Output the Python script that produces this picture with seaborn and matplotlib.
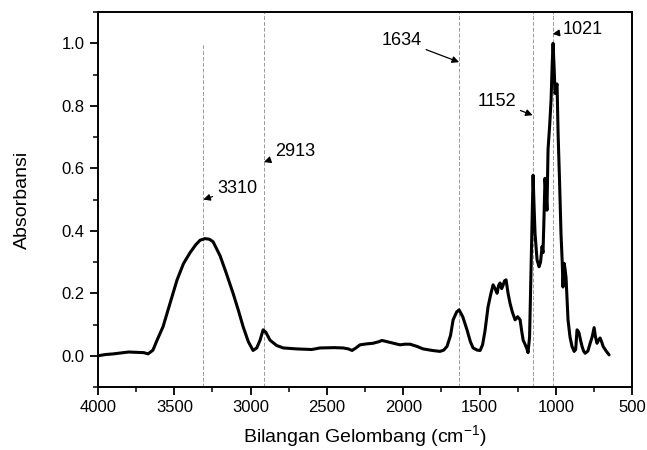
import matplotlib
matplotlib.use("Agg")
import matplotlib.pyplot as plt
import seaborn as sns
import pandas as pd
from matplotlib.ticker import MultipleLocator

wavenumber = [4000, 3950, 3900, 3850, 3800, 3750, 3700, 3672, 3640, 3613, 3574, 3530, 3482,
              3440, 3397, 3360, 3331, 3299, 3270, 3246, 3200, 3160, 3115, 3080, 3049, 3015,
              2984, 2960, 2938, 2918, 2900, 2873, 2830, 2786, 2700, 2600, 2545, 2450, 2394,
              2360, 2335, 2310, 2283, 2240, 2198, 2160, 2139, 2080, 2021, 1990, 1955, 1910,
              1870, 1810, 1759, 1735, 1713, 1690, 1673, 1650, 1634, 1610, 1582, 1560, 1542,
              1515, 1496, 1480, 1464, 1444, 1425, 1411, 1398, 1385, 1375, 1365, 1355, 1346,
              1336, 1326, 1313, 1300, 1285, 1267, 1250, 1234, 1224, 1214, 1200, 1188, 1182,
              1172, 1162, 1155, 1149, 1142, 1136, 1123, 1110, 1100, 1090, 1084, 1077, 1071,
              1064, 1058, 1051, 1040, 1031, 1024, 1018, 1011, 1005, 998, 992, 985, 975, 966,
              958, 953, 946, 940, 933, 925, 920, 907, 894, 880, 870, 861, 855, 848, 838, 828,
              818, 808, 790, 775, 762, 749, 740, 730, 720, 710, 700, 690, 670, 651]
absorbance = [0.000, 0.004, 0.006, 0.009, 0.012, 0.011, 0.010, 0.006, 0.018, 0.050, 0.093,
              0.165, 0.243, 0.295, 0.330, 0.355, 0.370, 0.375, 0.373, 0.365, 0.320, 0.265,
              0.200, 0.145, 0.093, 0.045, 0.017, 0.025, 0.050, 0.083, 0.075, 0.050, 0.033,
              0.025, 0.022, 0.020, 0.025, 0.026, 0.025, 0.022, 0.017, 0.025, 0.035, 0.038,
              0.040, 0.045, 0.049, 0.042, 0.035, 0.037, 0.037, 0.030, 0.022, 0.017, 0.014,
              0.018, 0.030, 0.065, 0.115, 0.140, 0.147, 0.125, 0.083, 0.045, 0.025, 0.018,
              0.017, 0.035, 0.080, 0.157, 0.200, 0.227, 0.215, 0.200, 0.225, 0.233, 0.215,
              0.225, 0.240, 0.243, 0.200, 0.168, 0.140, 0.115, 0.125, 0.115, 0.080, 0.050,
              0.035, 0.020, 0.010, 0.060, 0.285, 0.450, 0.578, 0.470, 0.390, 0.307, 0.285,
              0.300, 0.350, 0.330, 0.450, 0.568, 0.520, 0.466, 0.660, 0.740, 0.820, 0.930,
              1.000, 0.920, 0.840, 0.860, 0.870, 0.710, 0.550, 0.390, 0.300, 0.220, 0.296,
              0.280, 0.250, 0.170, 0.115, 0.060, 0.030, 0.014, 0.020, 0.083, 0.080, 0.073,
              0.050, 0.030, 0.015, 0.008, 0.015, 0.040, 0.060, 0.090, 0.060, 0.040, 0.050,
              0.057, 0.045, 0.030, 0.015, 0.003]

peak_positions = [3310, 2913, 1634, 1152, 1021]
peak_labels = ["3310", "2913", "1634", "1152", "1021"]
line_tops = [1.0, 1.1, 1.1, 1.1, 1.1]
arrow_tips = [0.50, 0.62, 0.94, 0.77, 1.03]
label_pos = [(3220, 0.535), (2840, 0.655), (1880, 1.01), (1262, 0.815), (955, 1.045)]

df = pd.DataFrame({"Bilangan Gelombang": wavenumber, "Absorbansi": absorbance})

sns.set_theme(style="ticks")
plt.rcParams["font.family"] = ["Liberation Sans", "DejaVu Sans"]
plt.rcParams["text.color"] = "black"
plt.rcParams["axes.labelcolor"] = "black"
plt.rcParams["mathtext.fontset"] = "custom"
plt.rcParams["mathtext.rm"] = "Liberation Sans"
plt.rcParams["mathtext.default"] = "regular"

fig = plt.figure(figsize=(6.47, 4.5), dpi=100)
ax = fig.add_axes([0.1515, 0.14, 0.8255, 0.833])

for pos, top in zip(peak_positions, line_tops):
    ax.vlines(pos, -0.1, top, colors="#9a9a9a", linestyles=(0, (4, 2)), linewidth=0.7, zorder=1)

sns.lineplot(data=df, x="Bilangan Gelombang", y="Absorbansi", color="black",
             linewidth=2.2, ax=ax, sort=False, estimator=None, zorder=3)

for pos, lab, tip, (tx, ty) in zip(peak_positions, peak_labels, arrow_tips, label_pos):
    ax.annotate(lab, xy=(pos, tip), xytext=(tx, ty), fontsize=13, color="black",
                ha="left" if tx < pos else "right", va="center",
                arrowprops=dict(arrowstyle="-|>", color="black", lw=0.9,
                                mutation_scale=10, shrinkA=1, shrinkB=0))

ax.set_xlim(4000, 500)
ax.set_ylim(-0.1, 1.1)
ax.xaxis.set_major_locator(MultipleLocator(500))
ax.xaxis.set_minor_locator(MultipleLocator(250))
ax.yaxis.set_minor_locator(MultipleLocator(0.1))
ax.set_yticks([0.0, 0.2, 0.4, 0.6, 0.8, 1.0])
ax.set_yticklabels(["0.0", "0.2", "0.4", "0.6", "0.8", "1.0"])
ax.tick_params(axis="both", which="major", direction="out", length=6, width=1.3,
               labelsize=12, colors="black")
ax.tick_params(axis="both", which="minor", direction="out", length=3.5, width=1.1,
               colors="black")
for sp in ax.spines.values():
    sp.set_linewidth(1.4)
    sp.set_color("black")
    sp.set_visible(True)

ax.set_xlabel("Bilangan Gelombang (cm$^{-1}$)", fontsize=14, labelpad=6)
ax.set_ylabel("Absorbansi", fontsize=14, labelpad=22)

fig.savefig("out.png", dpi=100)
